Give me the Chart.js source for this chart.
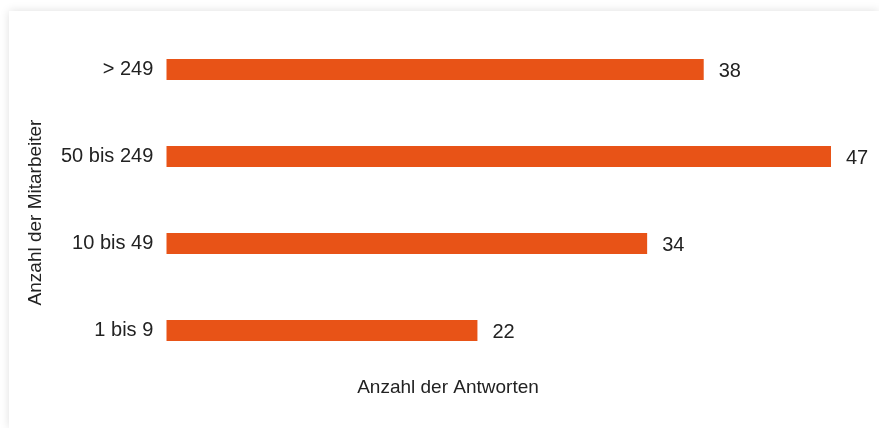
<!DOCTYPE html>
<html>
<head>
<meta charset="utf-8">
<script src="https://cdn.jsdelivr.net/npm/chart.js@4/dist/chart.umd.min.js"></script>
<style>
  html, body { margin: 0; padding: 0; background: #fff; overflow: hidden; }
  #karte {
    position: absolute; left: 9px; top: 11px; width: 870px; height: 417px;
    background: #fff; box-shadow: 0 0 9px rgba(0, 0, 0, 0.13);
  }
  canvas { display: block; }
</style>
</head>
<body>
<div id="karte"><canvas id="mitarbeiter" width="870" height="417"></canvas></div>
<script>
const KATEGORIEN = ['> 249', '50 bis 249', '10 bis 49', '1 bis 9'];
const ANTWORTEN = [38, 47, 34, 22];
const X_MAX = 47;
const X_TITEL = 'Anzahl der Antworten';
const Y_TITEL = 'Anzahl der Mitarbeiter';

const FAMILIE = "'Liberation Sans', Arial, sans-serif";
const TEXTFARBE = '#222222';

// Werte rechts neben die Balken schreiben
const wertBeschriftung = {
    id: 'wertBeschriftung',
    afterDatasetsDraw(chart) {
        const ctx = chart.ctx;
        const meta = chart.getDatasetMeta(0);
        ctx.save();
        ctx.font = '20px ' + FAMILIE;
        ctx.fillStyle = TEXTFARBE;
        ctx.textAlign = 'left';
        ctx.textBaseline = 'middle';
        meta.data.forEach((bar, i) => {
            ctx.fillText(String(chart.data.datasets[0].data[i]), bar.x + 15, bar.y + 2);
        });
        ctx.restore();
    }
};

// Achsentitel sind im Original auf die Karte zentriert, nicht auf den Plotbereich
const achsenTitel = {
    id: 'achsenTitel',
    afterDraw(chart) {
        const ctx = chart.ctx;
        ctx.save();
        ctx.font = '19px ' + FAMILIE;
        ctx.fillStyle = TEXTFARBE;
        ctx.textAlign = 'center';
        ctx.textBaseline = 'middle';
        ctx.fillText(X_TITEL, chart.width / 2 + 4, chart.chartArea.bottom + 14);
        ctx.translate(27, chart.height / 2 - 7);
        ctx.rotate(-Math.PI / 2);
        ctx.fillText(Y_TITEL, 0, 0);
        ctx.restore();
    }
};

new Chart(document.getElementById('mitarbeiter').getContext('2d'), {
    type: 'bar',
    data: {
        labels: KATEGORIEN,
        datasets: [{
            label: X_TITEL,
            data: ANTWORTEN,
            backgroundColor: '#E85317',
            borderWidth: 0,
            categoryPercentage: 1,
            barPercentage: 0.24
        }]
    },
    options: {
        indexAxis: 'y',
        responsive: false,
        animation: false,
        layout: { padding: { left: 39, top: 15, right: 48, bottom: 54 } },
        plugins: {
            legend: { display: false },
            tooltip: { enabled: false }
        },
        scales: {
            x: {
                min: 0,
                max: X_MAX,
                grid: { display: false, drawTicks: false },
                border: { display: false },
                ticks: { display: false }
            },
            y: {
                grid: { display: false, drawTicks: false },
                border: { display: false },
                // kleine lineHeight, damit der Diagrammbereich oben nicht nach unten rutscht
                ticks: { color: TEXTFARBE, font: { family: FAMILIE, size: 20, lineHeight: 0.1 }, padding: 13 }
            }
        }
    },
    plugins: [wertBeschriftung, achsenTitel]
});
</script>
</body>
</html>
